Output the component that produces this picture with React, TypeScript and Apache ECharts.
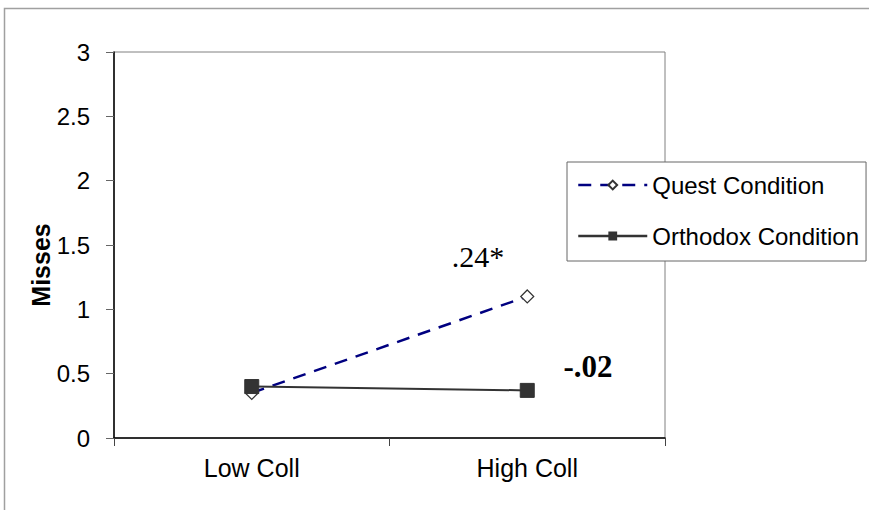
import React, { useEffect, useRef } from "react";
import * as echarts from "echarts";

const categories = ["Low Coll", "High Coll"];
const questValues = [0.35, 1.1];
const orthodoxValues = [0.4, 0.37];
const seriesNames = ["Quest Condition", "Orthodox Condition"];
const yTicks = { min: 0, max: 3, interval: 0.5 };
const annotations = [".24*", "-.02"];

const SANS = "Arial, 'Liberation Sans', sans-serif";
const SERIF = "'Times New Roman', 'Liberation Serif', serif";

export default function App() {
  const ref = useRef<HTMLDivElement>(null);
  useEffect(() => {
    if (!ref.current) return;
    const chart = echarts.init(ref.current, null, { renderer: "svg" });
    chart.setOption({
      animation: false,
      backgroundColor: "#fff",
      grid: {
        left: 114,
        top: 52,
        width: 551,
        height: 386,
        show: true,
        borderColor: "#808080",
        borderWidth: 1,
      },
      xAxis: {
        type: "category",
        data: categories,
        boundaryGap: true,
        axisLine: { show: true, lineStyle: { color: "#000", width: 1.5 } },
        axisTick: { show: true, length: 8, lineStyle: { color: "#444" } },
        axisLabel: { fontFamily: SANS, fontSize: 25, color: "#000", margin: 17 },
        splitLine: { show: false },
      },
      yAxis: {
        type: "value",
        min: yTicks.min,
        max: yTicks.max,
        interval: yTicks.interval,
        axisLine: { show: true, lineStyle: { color: "#000", width: 1.5 } },
        axisTick: { show: true, length: 8, lineStyle: { color: "#666" } },
        axisLabel: {
          fontFamily: SANS,
          fontSize: 24,
          color: "#000",
          margin: 24,
          formatter: (v: number) => String(v),
        },
        splitLine: { show: false },
      },
      legend: {
        data: seriesNames,
        orient: "vertical",
        left: 567,
        top: 162,
        padding: [10, 7, 12, 10],
        itemWidth: 69,
        itemHeight: 11,
        itemGap: 25,
        backgroundColor: "#fff",
        borderColor: "#666",
        borderWidth: 1,
        lineStyle: { width: 2.5 },
        textStyle: { fontFamily: SANS, fontSize: 24, color: "#000", lineHeight: 26 },
      },
      series: [
        {
          name: seriesNames[0],
          type: "line",
          data: questValues,
          symbol: "diamond",
          symbolSize: 13,
          lineStyle: { color: "#000080", width: 2.5, type: [13, 9] },
          itemStyle: { color: "#fff", borderColor: "#333", borderWidth: 1.2 },
          z: 3,
        },
        {
          name: seriesNames[1],
          type: "line",
          data: orthodoxValues,
          symbol: "rect",
          symbolSize: 14,
          lineStyle: { color: "#333", width: 2 },
          itemStyle: { color: "#333", borderColor: "#333" },
          z: 4,
        },
      ],
      graphic: [
        {
          type: "rect",
          shape: { x: 4.5, y: 8.5, width: 2000, height: 2000 },
          style: { fill: "none", stroke: "#a0a0a0", lineWidth: 1.5 },
          silent: true,
          z: 0,
        },
        {
          type: "text",
          x: 41,
          y: 265,
          rotation: Math.PI / 2,
          style: {
            text: "Misses",
            fontFamily: SANS,
            fontSize: 25,
            fontWeight: "bold",
            fill: "#000",
            align: "center",
            verticalAlign: "middle",
          },
        },
        {
          type: "text",
          x: 478,
          y: 256,
          style: {
            text: annotations[0],
            fontFamily: SERIF,
            fontSize: 30,
            fill: "#000",
            align: "center",
            verticalAlign: "middle",
          },
        },
        {
          type: "text",
          x: 588,
          y: 366,
          style: {
            text: annotations[1],
            fontFamily: SERIF,
            fontSize: 31,
            fontWeight: "bold",
            fill: "#000",
            align: "center",
            verticalAlign: "middle",
          },
        },
      ],
    });
    return () => chart.dispose();
  }, []);
  return (
    <div
      ref={ref}
      style={{ position: "fixed", left: 0, top: 0, width: 869, height: 510 }}
    />
  );
}
